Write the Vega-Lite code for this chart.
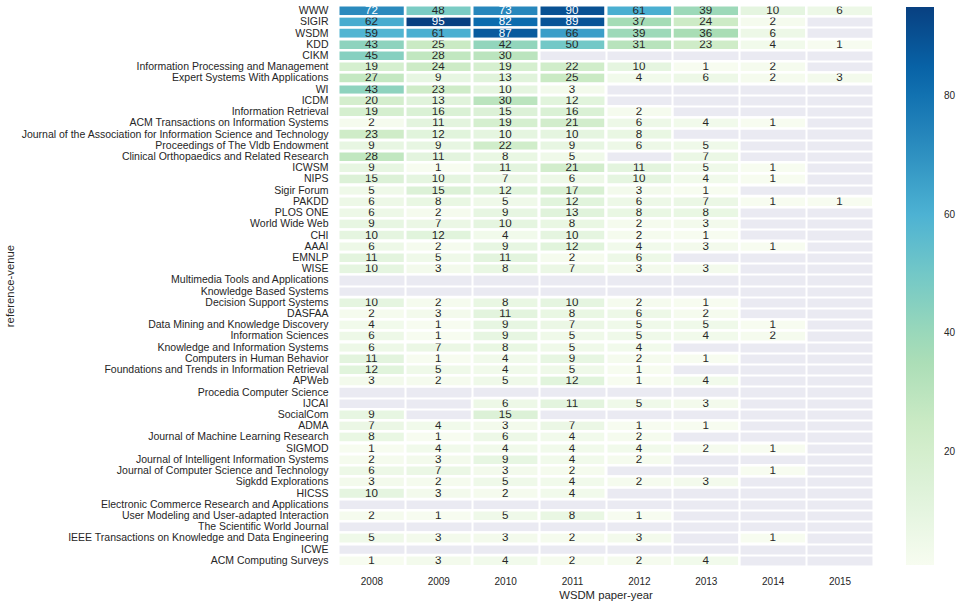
{
  "$schema": "https://vega.github.io/schema/vega-lite/v6.json",
  "width": 535,
  "height": 561,
  "autosize": "none",
  "padding": {"left": 338, "top": 5, "right": 89, "bottom": 39},
  "background": "white",
  "config": {
    "font": "Liberation Sans",
    "view": {"fill": "#EAEAF2", "stroke": null},
    "axis": {"domain": false, "ticks": false, "labelColor": "#262626", "titleColor": "#262626", "titleFontWeight": "normal", "grid": true, "gridColor": "white", "gridWidth": 2, "gridOpacity": 1, "tickBand": "extent"}
  },
  "data": {"values": [
    {"venue":"WWW","year":2008,"count":72},{"venue":"WWW","year":2009,"count":48},{"venue":"WWW","year":2010,"count":73},{"venue":"WWW","year":2011,"count":90},{"venue":"WWW","year":2012,"count":61},{"venue":"WWW","year":2013,"count":39},{"venue":"WWW","year":2014,"count":10},{"venue":"WWW","year":2015,"count":6},
    {"venue":"SIGIR","year":2008,"count":62},{"venue":"SIGIR","year":2009,"count":95},{"venue":"SIGIR","year":2010,"count":82},{"venue":"SIGIR","year":2011,"count":89},{"venue":"SIGIR","year":2012,"count":37},{"venue":"SIGIR","year":2013,"count":24},{"venue":"SIGIR","year":2014,"count":2},
    {"venue":"WSDM","year":2008,"count":59},{"venue":"WSDM","year":2009,"count":61},{"venue":"WSDM","year":2010,"count":87},{"venue":"WSDM","year":2011,"count":66},{"venue":"WSDM","year":2012,"count":39},{"venue":"WSDM","year":2013,"count":36},{"venue":"WSDM","year":2014,"count":6},
    {"venue":"KDD","year":2008,"count":43},{"venue":"KDD","year":2009,"count":25},{"venue":"KDD","year":2010,"count":42},{"venue":"KDD","year":2011,"count":50},{"venue":"KDD","year":2012,"count":31},{"venue":"KDD","year":2013,"count":23},{"venue":"KDD","year":2014,"count":4},{"venue":"KDD","year":2015,"count":1},
    {"venue":"CIKM","year":2008,"count":45},{"venue":"CIKM","year":2009,"count":28},{"venue":"CIKM","year":2010,"count":30},
    {"venue":"Information Processing and Management","year":2008,"count":19},{"venue":"Information Processing and Management","year":2009,"count":24},{"venue":"Information Processing and Management","year":2010,"count":19},{"venue":"Information Processing and Management","year":2011,"count":22},{"venue":"Information Processing and Management","year":2012,"count":10},{"venue":"Information Processing and Management","year":2013,"count":1},{"venue":"Information Processing and Management","year":2014,"count":2},
    {"venue":"Expert Systems With Applications","year":2008,"count":27},{"venue":"Expert Systems With Applications","year":2009,"count":9},{"venue":"Expert Systems With Applications","year":2010,"count":13},{"venue":"Expert Systems With Applications","year":2011,"count":25},{"venue":"Expert Systems With Applications","year":2012,"count":4},{"venue":"Expert Systems With Applications","year":2013,"count":6},{"venue":"Expert Systems With Applications","year":2014,"count":2},{"venue":"Expert Systems With Applications","year":2015,"count":3},
    {"venue":"WI","year":2008,"count":43},{"venue":"WI","year":2009,"count":23},{"venue":"WI","year":2010,"count":10},{"venue":"WI","year":2011,"count":3},
    {"venue":"ICDM","year":2008,"count":20},{"venue":"ICDM","year":2009,"count":13},{"venue":"ICDM","year":2010,"count":30},{"venue":"ICDM","year":2011,"count":12},
    {"venue":"Information Retrieval","year":2008,"count":19},{"venue":"Information Retrieval","year":2009,"count":16},{"venue":"Information Retrieval","year":2010,"count":15},{"venue":"Information Retrieval","year":2011,"count":16},{"venue":"Information Retrieval","year":2012,"count":2},
    {"venue":"ACM Transactions on Information Systems","year":2008,"count":2},{"venue":"ACM Transactions on Information Systems","year":2009,"count":11},{"venue":"ACM Transactions on Information Systems","year":2010,"count":19},{"venue":"ACM Transactions on Information Systems","year":2011,"count":21},{"venue":"ACM Transactions on Information Systems","year":2012,"count":6},{"venue":"ACM Transactions on Information Systems","year":2013,"count":4},{"venue":"ACM Transactions on Information Systems","year":2014,"count":1},
    {"venue":"Journal of the Association for Information Science and Technology","year":2008,"count":23},{"venue":"Journal of the Association for Information Science and Technology","year":2009,"count":12},{"venue":"Journal of the Association for Information Science and Technology","year":2010,"count":10},{"venue":"Journal of the Association for Information Science and Technology","year":2011,"count":10},{"venue":"Journal of the Association for Information Science and Technology","year":2012,"count":8},
    {"venue":"Proceedings of The Vldb Endowment","year":2008,"count":9},{"venue":"Proceedings of The Vldb Endowment","year":2009,"count":9},{"venue":"Proceedings of The Vldb Endowment","year":2010,"count":22},{"venue":"Proceedings of The Vldb Endowment","year":2011,"count":9},{"venue":"Proceedings of The Vldb Endowment","year":2012,"count":6},{"venue":"Proceedings of The Vldb Endowment","year":2013,"count":5},
    {"venue":"Clinical Orthopaedics and Related Research","year":2008,"count":28},{"venue":"Clinical Orthopaedics and Related Research","year":2009,"count":11},{"venue":"Clinical Orthopaedics and Related Research","year":2010,"count":8},{"venue":"Clinical Orthopaedics and Related Research","year":2011,"count":5},{"venue":"Clinical Orthopaedics and Related Research","year":2013,"count":7},
    {"venue":"ICWSM","year":2008,"count":9},{"venue":"ICWSM","year":2009,"count":1},{"venue":"ICWSM","year":2010,"count":11},{"venue":"ICWSM","year":2011,"count":21},{"venue":"ICWSM","year":2012,"count":11},{"venue":"ICWSM","year":2013,"count":5},{"venue":"ICWSM","year":2014,"count":1},
    {"venue":"NIPS","year":2008,"count":15},{"venue":"NIPS","year":2009,"count":10},{"venue":"NIPS","year":2010,"count":7},{"venue":"NIPS","year":2011,"count":6},{"venue":"NIPS","year":2012,"count":10},{"venue":"NIPS","year":2013,"count":4},{"venue":"NIPS","year":2014,"count":1},
    {"venue":"Sigir Forum","year":2008,"count":5},{"venue":"Sigir Forum","year":2009,"count":15},{"venue":"Sigir Forum","year":2010,"count":12},{"venue":"Sigir Forum","year":2011,"count":17},{"venue":"Sigir Forum","year":2012,"count":3},{"venue":"Sigir Forum","year":2013,"count":1},
    {"venue":"PAKDD","year":2008,"count":6},{"venue":"PAKDD","year":2009,"count":8},{"venue":"PAKDD","year":2010,"count":5},{"venue":"PAKDD","year":2011,"count":12},{"venue":"PAKDD","year":2012,"count":6},{"venue":"PAKDD","year":2013,"count":7},{"venue":"PAKDD","year":2014,"count":1},{"venue":"PAKDD","year":2015,"count":1},
    {"venue":"PLOS ONE","year":2008,"count":6},{"venue":"PLOS ONE","year":2009,"count":2},{"venue":"PLOS ONE","year":2010,"count":9},{"venue":"PLOS ONE","year":2011,"count":13},{"venue":"PLOS ONE","year":2012,"count":8},{"venue":"PLOS ONE","year":2013,"count":8},
    {"venue":"World Wide Web","year":2008,"count":9},{"venue":"World Wide Web","year":2009,"count":7},{"venue":"World Wide Web","year":2010,"count":10},{"venue":"World Wide Web","year":2011,"count":8},{"venue":"World Wide Web","year":2012,"count":2},{"venue":"World Wide Web","year":2013,"count":3},
    {"venue":"CHI","year":2008,"count":10},{"venue":"CHI","year":2009,"count":12},{"venue":"CHI","year":2010,"count":4},{"venue":"CHI","year":2011,"count":10},{"venue":"CHI","year":2012,"count":2},{"venue":"CHI","year":2013,"count":1},
    {"venue":"AAAI","year":2008,"count":6},{"venue":"AAAI","year":2009,"count":2},{"venue":"AAAI","year":2010,"count":9},{"venue":"AAAI","year":2011,"count":12},{"venue":"AAAI","year":2012,"count":4},{"venue":"AAAI","year":2013,"count":3},{"venue":"AAAI","year":2014,"count":1},
    {"venue":"EMNLP","year":2008,"count":11},{"venue":"EMNLP","year":2009,"count":5},{"venue":"EMNLP","year":2010,"count":11},{"venue":"EMNLP","year":2011,"count":2},{"venue":"EMNLP","year":2012,"count":6},
    {"venue":"WISE","year":2008,"count":10},{"venue":"WISE","year":2009,"count":3},{"venue":"WISE","year":2010,"count":8},{"venue":"WISE","year":2011,"count":7},{"venue":"WISE","year":2012,"count":3},{"venue":"WISE","year":2013,"count":3},
    {"venue":"Decision Support Systems","year":2008,"count":10},{"venue":"Decision Support Systems","year":2009,"count":2},{"venue":"Decision Support Systems","year":2010,"count":8},{"venue":"Decision Support Systems","year":2011,"count":10},{"venue":"Decision Support Systems","year":2012,"count":2},{"venue":"Decision Support Systems","year":2013,"count":1},
    {"venue":"DASFAA","year":2008,"count":2},{"venue":"DASFAA","year":2009,"count":3},{"venue":"DASFAA","year":2010,"count":11},{"venue":"DASFAA","year":2011,"count":8},{"venue":"DASFAA","year":2012,"count":6},{"venue":"DASFAA","year":2013,"count":2},
    {"venue":"Data Mining and Knowledge Discovery","year":2008,"count":4},{"venue":"Data Mining and Knowledge Discovery","year":2009,"count":1},{"venue":"Data Mining and Knowledge Discovery","year":2010,"count":9},{"venue":"Data Mining and Knowledge Discovery","year":2011,"count":7},{"venue":"Data Mining and Knowledge Discovery","year":2012,"count":5},{"venue":"Data Mining and Knowledge Discovery","year":2013,"count":5},{"venue":"Data Mining and Knowledge Discovery","year":2014,"count":1},
    {"venue":"Information Sciences","year":2008,"count":6},{"venue":"Information Sciences","year":2009,"count":1},{"venue":"Information Sciences","year":2010,"count":9},{"venue":"Information Sciences","year":2011,"count":5},{"venue":"Information Sciences","year":2012,"count":5},{"venue":"Information Sciences","year":2013,"count":4},{"venue":"Information Sciences","year":2014,"count":2},
    {"venue":"Knowledge and Information Systems","year":2008,"count":6},{"venue":"Knowledge and Information Systems","year":2009,"count":7},{"venue":"Knowledge and Information Systems","year":2010,"count":8},{"venue":"Knowledge and Information Systems","year":2011,"count":5},{"venue":"Knowledge and Information Systems","year":2012,"count":4},
    {"venue":"Computers in Human Behavior","year":2008,"count":11},{"venue":"Computers in Human Behavior","year":2009,"count":1},{"venue":"Computers in Human Behavior","year":2010,"count":4},{"venue":"Computers in Human Behavior","year":2011,"count":9},{"venue":"Computers in Human Behavior","year":2012,"count":2},{"venue":"Computers in Human Behavior","year":2013,"count":1},
    {"venue":"Foundations and Trends in Information Retrieval","year":2008,"count":12},{"venue":"Foundations and Trends in Information Retrieval","year":2009,"count":5},{"venue":"Foundations and Trends in Information Retrieval","year":2010,"count":4},{"venue":"Foundations and Trends in Information Retrieval","year":2011,"count":5},{"venue":"Foundations and Trends in Information Retrieval","year":2012,"count":1},
    {"venue":"APWeb","year":2008,"count":3},{"venue":"APWeb","year":2009,"count":2},{"venue":"APWeb","year":2010,"count":5},{"venue":"APWeb","year":2011,"count":12},{"venue":"APWeb","year":2012,"count":1},{"venue":"APWeb","year":2013,"count":4},
    {"venue":"IJCAI","year":2010,"count":6},{"venue":"IJCAI","year":2011,"count":11},{"venue":"IJCAI","year":2012,"count":5},{"venue":"IJCAI","year":2013,"count":3},
    {"venue":"SocialCom","year":2008,"count":9},{"venue":"SocialCom","year":2010,"count":15},
    {"venue":"ADMA","year":2008,"count":7},{"venue":"ADMA","year":2009,"count":4},{"venue":"ADMA","year":2010,"count":3},{"venue":"ADMA","year":2011,"count":7},{"venue":"ADMA","year":2012,"count":1},{"venue":"ADMA","year":2013,"count":1},
    {"venue":"Journal of Machine Learning Research","year":2008,"count":8},{"venue":"Journal of Machine Learning Research","year":2009,"count":1},{"venue":"Journal of Machine Learning Research","year":2010,"count":6},{"venue":"Journal of Machine Learning Research","year":2011,"count":4},{"venue":"Journal of Machine Learning Research","year":2012,"count":2},
    {"venue":"SIGMOD","year":2008,"count":1},{"venue":"SIGMOD","year":2009,"count":4},{"venue":"SIGMOD","year":2010,"count":4},{"venue":"SIGMOD","year":2011,"count":4},{"venue":"SIGMOD","year":2012,"count":4},{"venue":"SIGMOD","year":2013,"count":2},{"venue":"SIGMOD","year":2014,"count":1},
    {"venue":"Journal of Intelligent Information Systems","year":2008,"count":2},{"venue":"Journal of Intelligent Information Systems","year":2009,"count":3},{"venue":"Journal of Intelligent Information Systems","year":2010,"count":9},{"venue":"Journal of Intelligent Information Systems","year":2011,"count":4},{"venue":"Journal of Intelligent Information Systems","year":2012,"count":2},
    {"venue":"Journal of Computer Science and Technology","year":2008,"count":6},{"venue":"Journal of Computer Science and Technology","year":2009,"count":7},{"venue":"Journal of Computer Science and Technology","year":2010,"count":3},{"venue":"Journal of Computer Science and Technology","year":2011,"count":2},{"venue":"Journal of Computer Science and Technology","year":2014,"count":1},
    {"venue":"Sigkdd Explorations","year":2008,"count":3},{"venue":"Sigkdd Explorations","year":2009,"count":2},{"venue":"Sigkdd Explorations","year":2010,"count":5},{"venue":"Sigkdd Explorations","year":2011,"count":4},{"venue":"Sigkdd Explorations","year":2012,"count":2},{"venue":"Sigkdd Explorations","year":2013,"count":3},
    {"venue":"HICSS","year":2008,"count":10},{"venue":"HICSS","year":2009,"count":3},{"venue":"HICSS","year":2010,"count":2},{"venue":"HICSS","year":2011,"count":4},
    {"venue":"User Modeling and User-adapted Interaction","year":2008,"count":2},{"venue":"User Modeling and User-adapted Interaction","year":2009,"count":1},{"venue":"User Modeling and User-adapted Interaction","year":2010,"count":5},{"venue":"User Modeling and User-adapted Interaction","year":2011,"count":8},{"venue":"User Modeling and User-adapted Interaction","year":2012,"count":1},
    {"venue":"IEEE Transactions on Knowledge and Data Engineering","year":2008,"count":5},{"venue":"IEEE Transactions on Knowledge and Data Engineering","year":2009,"count":3},{"venue":"IEEE Transactions on Knowledge and Data Engineering","year":2010,"count":3},{"venue":"IEEE Transactions on Knowledge and Data Engineering","year":2011,"count":2},{"venue":"IEEE Transactions on Knowledge and Data Engineering","year":2012,"count":3},{"venue":"IEEE Transactions on Knowledge and Data Engineering","year":2014,"count":1},
    {"venue":"ACM Computing Surveys","year":2008,"count":1},{"venue":"ACM Computing Surveys","year":2009,"count":3},{"venue":"ACM Computing Surveys","year":2010,"count":4},{"venue":"ACM Computing Surveys","year":2011,"count":2},{"venue":"ACM Computing Surveys","year":2012,"count":2},{"venue":"ACM Computing Surveys","year":2013,"count":4}
  ]},
  "encoding": {
    "x": {
      "field": "year", "type": "ordinal",
      "scale": {"domain": [2008, 2009, 2010, 2011, 2012, 2013, 2014, 2015], "paddingInner": 0, "paddingOuter": 0},
      "axis": {"title": "WSDM paper-year", "labelAngle": 0, "labelFontSize": 10, "labelPadding": 10, "titleFontSize": 11.3, "titlePadding": 3}
    },
    "y": {
      "field": "venue", "type": "nominal",
      "scale": {"paddingInner": 0, "paddingOuter": 0, "domain": ["WWW","SIGIR","WSDM","KDD","CIKM","Information Processing and Management","Expert Systems With Applications","WI","ICDM","Information Retrieval","ACM Transactions on Information Systems","Journal of the Association for Information Science and Technology","Proceedings of The Vldb Endowment","Clinical Orthopaedics and Related Research","ICWSM","NIPS","Sigir Forum","PAKDD","PLOS ONE","World Wide Web","CHI","AAAI","EMNLP","WISE","Multimedia Tools and Applications","Knowledge Based Systems","Decision Support Systems","DASFAA","Data Mining and Knowledge Discovery","Information Sciences","Knowledge and Information Systems","Computers in Human Behavior","Foundations and Trends in Information Retrieval","APWeb","Procedia Computer Science","IJCAI","SocialCom","ADMA","Journal of Machine Learning Research","SIGMOD","Journal of Intelligent Information Systems","Journal of Computer Science and Technology","Sigkdd Explorations","HICSS","Electronic Commerce Research and Applications","User Modeling and User-adapted Interaction","The Scientific World Journal","IEEE Transactions on Knowledge and Data Engineering","ICWE","ACM Computing Surveys"]},
      "axis": {"title": "reference-venue", "labelFontSize": 10.5, "labelPadding": 10, "labelLimit": 400, "titleFontSize": 11.3, "titleX": -328, "titleBaseline": "middle"}
    }
  },
  "layer": [
    {
      "mark": {"type": "rect", "stroke": "white", "strokeWidth": 2},
      "encoding": {
        "color": {
          "field": "count", "type": "quantitative",
          "scale": {"type": "linear", "domain": [1, 12.75, 24.5, 36.25, 48, 59.75, 71.5, 83.25, 95], "range": ["#f7fcf0", "#e0f3db", "#ccebc5", "#a8ddb5", "#7bccc4", "#4eb3d3", "#2b8cbe", "#0868ac", "#084081"], "interpolate": "rgb"},
          "legend": {"title": null, "orient": "none", "legendX": 568, "legendY": 2, "direction": "vertical", "gradientLength": 558, "gradientThickness": 28, "gradientStrokeWidth": 0, "values": [20, 40, 60, 80], "labelFontSize": 10, "labelColor": "#262626", "labelOffset": 10, "labelOverlap": false, "tickCount": 4}
        }
      }
    },
    {
      "mark": {"type": "text", "fontSize": 11.6, "baseline": "middle", "dy": 0.5},
      "encoding": {
        "text": {"field": "count", "type": "quantitative"},
        "color": {"condition": {"test": "datum.count > 68", "value": "white"}, "value": "#262626"}
      }
    }
  ]
}
